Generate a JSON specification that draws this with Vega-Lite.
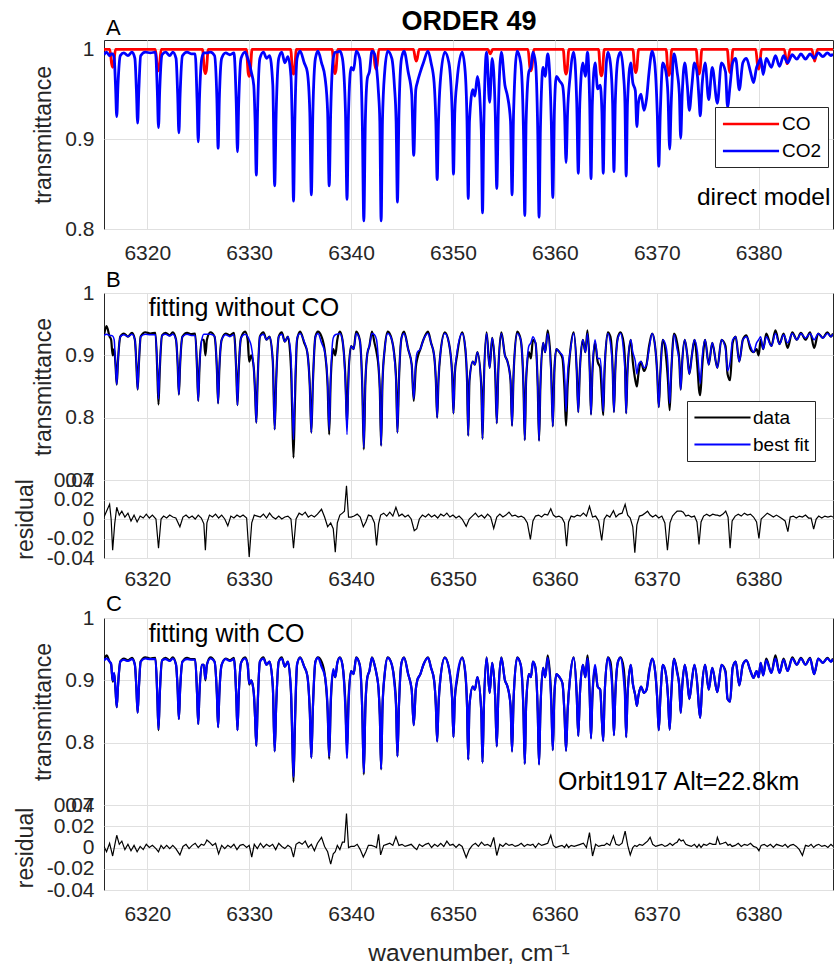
{
"$schema": "https://vega.github.io/schema/vega-lite/v6.json",
"background": "white",
"padding": {"left": 13, "right": 0, "top": 7, "bottom": 3},
"config": {
  "font": "Liberation Sans",
  "view": {"stroke": "#262626", "strokeWidth": 1},
  "axis": {"labelFont": "Liberation Sans", "labelFontSize": 21, "labelColor": "#262626", "titleFont": "Liberation Sans", "titleFontSize": 23, "titleFontWeight": "normal", "titleColor": "#262626", "gridColor": "#e0e0e0", "gridWidth": 1, "domain": false, "ticks": false, "labelPadding": 10, "titlePadding": 9, "labelOverlap": false},
  "legend": {"labelFont": "Liberation Sans", "labelFontSize": 19, "labelColor": "#000000", "strokeColor": "#262626", "fillColor": "#ffffff", "padding": 6, "rowPadding": 6, "symbolType": "M-3,0H3", "symbolSize": 350, "symbolOffset": 19, "labelOffset": 20}
},
"resolve": {"scale": {"color": "independent"}, "legend": {"color": "independent"}},
"datasets": {
"co": [
{"x":6315.75,"CO":1},
{"x":6316.32,"CO":1},{"x":6316.5,"CO":0.984},{"x":6316.6,"CO":0.98},{"x":6316.7,"CO":0.984},{"x":6316.88,"CO":1},
{"x":6320.8,"CO":1},{"x":6320.98,"CO":0.98},{"x":6321.08,"CO":0.976},{"x":6321.18,"CO":0.98},{"x":6321.36,"CO":1},
{"x":6325.42,"CO":1},{"x":6325.6,"CO":0.977},{"x":6325.7,"CO":0.973},{"x":6325.8,"CO":0.977},{"x":6325.98,"CO":1},
{"x":6329.72,"CO":1},{"x":6329.9,"CO":0.974},{"x":6330.0,"CO":0.97},{"x":6330.1,"CO":0.974},{"x":6330.28,"CO":1},
{"x":6334.07,"CO":1},{"x":6334.25,"CO":0.9765},{"x":6334.35,"CO":0.9725},{"x":6334.45,"CO":0.9765},{"x":6334.63,"CO":1},
{"x":6338.14,"CO":1},{"x":6338.32,"CO":0.977},{"x":6338.42,"CO":0.973},{"x":6338.52,"CO":0.977},{"x":6338.7,"CO":1},
{"x":6342.17,"CO":1},{"x":6342.35,"CO":0.982},{"x":6342.45,"CO":0.978},{"x":6342.55,"CO":0.982},{"x":6342.73,"CO":1},
{"x":6346.12,"CO":1},{"x":6346.3,"CO":0.99},{"x":6346.4,"CO":0.987},{"x":6346.5,"CO":0.99},{"x":6346.68,"CO":1},
{"x":6353.42,"CO":1},{"x":6353.56,"CO":0.997},{"x":6353.66,"CO":0.995},{"x":6353.76,"CO":0.997},{"x":6353.9,"CO":1},
{"x":6357.37,"CO":1},{"x":6357.55,"CO":0.98},{"x":6357.65,"CO":0.976},{"x":6357.75,"CO":0.98},{"x":6357.93,"CO":1},
{"x":6360.82,"CO":1},{"x":6361.0,"CO":0.9765},{"x":6361.1,"CO":0.9725},{"x":6361.2,"CO":0.9765},{"x":6361.38,"CO":1},
{"x":6364.29,"CO":1},{"x":6364.47,"CO":0.9745},{"x":6364.57,"CO":0.9705},{"x":6364.67,"CO":0.9745},{"x":6364.85,"CO":1},
{"x":6367.66,"CO":1},{"x":6367.84,"CO":0.978},{"x":6367.94,"CO":0.974},{"x":6368.04,"CO":0.978},{"x":6368.22,"CO":1},
{"x":6370.92,"CO":1},{"x":6371.1,"CO":0.975},{"x":6371.2,"CO":0.971},{"x":6371.3,"CO":0.975},{"x":6371.48,"CO":1},
{"x":6373.87,"CO":1},{"x":6374.05,"CO":0.9765},{"x":6374.15,"CO":0.9725},{"x":6374.25,"CO":0.9765},{"x":6374.43,"CO":1},
{"x":6376.92,"CO":1},{"x":6377.1,"CO":0.978},{"x":6377.2,"CO":0.974},{"x":6377.3,"CO":0.978},{"x":6377.48,"CO":1},
{"x":6379.72,"CO":1},{"x":6379.9,"CO":0.982},{"x":6380.0,"CO":0.978},{"x":6380.1,"CO":0.982},{"x":6380.28,"CO":1},
{"x":6382.52,"CO":1},{"x":6382.7,"CO":0.988},{"x":6382.8,"CO":0.984},{"x":6382.9,"CO":0.988},{"x":6383.08,"CO":1},
{"x":6385.22,"CO":1},{"x":6385.4,"CO":0.991},{"x":6385.5,"CO":0.987},{"x":6385.6,"CO":0.991},{"x":6385.78,"CO":1},
{"x":6387.3,"CO":1}
],
"spec": [
{"x":6315.75,"CO2":0.994,"bd":0.932,"bf":0.932,"cd":0.932,"cf":0.932},
{"x":6316.0,"CO2":0.997,"bd":0.947,"bf":0.934,"cd":0.94,"cf":0.935},
{"x":6316.3,"CO2":0.993,"bd":0.93,"bf":0.932,"cd":0.93,"cf":0.93},
{"x":6316.45,"CO2":0.995,"bd":0.925,"bf":0.932,"cd":0.925,"cf":0.927},
{"x":6316.6,"CO2":0.995,"bd":0.90,"bf":0.931,"cd":0.898,"cf":0.90},
{"x":6316.75,"CO2":0.99,"bd":0.91,"bf":0.925,"cd":0.91,"cf":0.912},
{"x":6316.88,"CO2":0.96,"bd":0.885,"bf":0.885,"cd":0.885,"cf":0.885},
{"x":6317.0,"CO2":0.925,"bd":0.853,"bf":0.853,"cd":0.857,"cf":0.857},
{"x":6317.12,"CO2":0.96,"bd":0.89,"bf":0.89,"cd":0.89,"cf":0.89},
{"x":6317.35,"CO2":0.993,"bd":0.93,"bf":0.93,"cd":0.93,"cf":0.93},
{"x":6317.7,"CO2":0.996,"bd":0.935,"bf":0.933,"cd":0.935,"cf":0.933},
{"x":6318.1,"CO2":0.993,"bd":0.93,"bf":0.93,"cd":0.932,"cf":0.931},
{"x":6318.5,"CO2":0.997,"bd":0.936,"bf":0.934,"cd":0.936,"cf":0.934},
{"x":6318.78,"CO2":0.99,"bd":0.925,"bf":0.925,"cd":0.925,"cf":0.925},
{"x":6318.93,"CO2":0.955,"bd":0.885,"bf":0.885,"cd":0.887,"cf":0.887},
{"x":6319.05,"CO2":0.918,"bd":0.845,"bf":0.845,"cd":0.848,"cf":0.848},
{"x":6319.17,"CO2":0.955,"bd":0.885,"bf":0.885,"cd":0.887,"cf":0.887},
{"x":6319.35,"CO2":0.993,"bd":0.93,"bf":0.93,"cd":0.93,"cf":0.93},
{"x":6319.8,"CO2":0.997,"bd":0.937,"bf":0.934,"cd":0.937,"cf":0.935},
{"x":6320.3,"CO2":0.996,"bd":0.935,"bf":0.933,"cd":0.935,"cf":0.934},
{"x":6320.8,"CO2":0.997,"bd":0.936,"bf":0.933,"cd":0.936,"cf":0.934},
{"x":6320.98,"CO2":0.955,"bd":0.875,"bf":0.88,"cd":0.875,"cf":0.877},
{"x":6321.1,"CO2":0.913,"bd":0.821,"bf":0.83,"cd":0.82,"cf":0.822},
{"x":6321.22,"CO2":0.955,"bd":0.875,"bf":0.88,"cd":0.875,"cf":0.877},
{"x":6321.45,"CO2":0.994,"bd":0.932,"bf":0.932,"cd":0.932,"cf":0.932},
{"x":6321.8,"CO2":0.997,"bd":0.936,"bf":0.934,"cd":0.936,"cf":0.934},
{"x":6322.2,"CO2":0.993,"bd":0.932,"bf":0.931,"cd":0.932,"cf":0.931},
{"x":6322.5,"CO2":0.997,"bd":0.937,"bf":0.934,"cd":0.937,"cf":0.935},
{"x":6322.82,"CO2":0.99,"bd":0.925,"bf":0.925,"cd":0.925,"cf":0.925},
{"x":6322.98,"CO2":0.95,"bd":0.885,"bf":0.885,"cd":0.885,"cf":0.885},
{"x":6323.1,"CO2":0.907,"bd":0.837,"bf":0.837,"cd":0.838,"cf":0.838},
{"x":6323.22,"CO2":0.95,"bd":0.885,"bf":0.885,"cd":0.885,"cf":0.885},
{"x":6323.45,"CO2":0.993,"bd":0.93,"bf":0.93,"cd":0.93,"cf":0.93},
{"x":6323.9,"CO2":0.997,"bd":0.936,"bf":0.934,"cd":0.936,"cf":0.934},
{"x":6324.3,"CO2":0.995,"bd":0.934,"bf":0.932,"cd":0.934,"cf":0.933},
{"x":6324.7,"CO2":0.995,"bd":0.935,"bf":0.932,"cd":0.934,"cf":0.933},
{"x":6324.88,"CO2":0.945,"bd":0.88,"bf":0.88,"cd":0.88,"cf":0.88},
{"x":6325.0,"CO2":0.897,"bd":0.827,"bf":0.827,"cd":0.83,"cf":0.83},
{"x":6325.12,"CO2":0.945,"bd":0.88,"bf":0.88,"cd":0.88,"cf":0.88},
{"x":6325.35,"CO2":0.99,"bd":0.925,"bf":0.925,"cd":0.925,"cf":0.925},
{"x":6325.55,"CO2":0.996,"bd":0.925,"bf":0.934,"cd":0.925,"cf":0.925},
{"x":6325.7,"CO2":0.996,"bd":0.90,"bf":0.934,"cd":0.90,"cf":0.902},
{"x":6325.85,"CO2":0.996,"bd":0.925,"bf":0.934,"cd":0.925,"cf":0.925},
{"x":6326.2,"CO2":0.997,"bd":0.937,"bf":0.934,"cd":0.937,"cf":0.935},
{"x":6326.6,"CO2":0.993,"bd":0.93,"bf":0.931,"cd":0.93,"cf":0.93},
{"x":6326.83,"CO2":0.945,"bd":0.878,"bf":0.878,"cd":0.878,"cf":0.878},
{"x":6326.95,"CO2":0.89,"bd":0.823,"bf":0.823,"cd":0.825,"cf":0.825},
{"x":6327.07,"CO2":0.945,"bd":0.878,"bf":0.878,"cd":0.878,"cf":0.878},
{"x":6327.3,"CO2":0.99,"bd":0.925,"bf":0.925,"cd":0.925,"cf":0.925},
{"x":6327.7,"CO2":0.996,"bd":0.935,"bf":0.933,"cd":0.935,"cf":0.934},
{"x":6328.1,"CO2":0.994,"bd":0.932,"bf":0.93,"cd":0.932,"cf":0.931},
{"x":6328.5,"CO2":0.996,"bd":0.936,"bf":0.933,"cd":0.936,"cf":0.934},
{"x":6328.73,"CO2":0.94,"bd":0.875,"bf":0.875,"cd":0.875,"cf":0.875},
{"x":6328.85,"CO2":0.886,"bd":0.82,"bf":0.82,"cd":0.82,"cf":0.82},
{"x":6328.97,"CO2":0.94,"bd":0.875,"bf":0.875,"cd":0.875,"cf":0.875},
{"x":6329.2,"CO2":0.99,"bd":0.928,"bf":0.928,"cd":0.928,"cf":0.928},
{"x":6329.6,"CO2":0.997,"bd":0.938,"bf":0.934,"cd":0.937,"cf":0.935},
{"x":6329.85,"CO2":0.99,"bd":0.925,"bf":0.93,"cd":0.925,"cf":0.925},
{"x":6330.0,"CO2":0.985,"bd":0.89,"bf":0.925,"cd":0.893,"cf":0.895},
{"x":6330.2,"CO2":0.975,"bd":0.90,"bf":0.915,"cd":0.90,"cf":0.90},
{"x":6330.45,"CO2":0.96,"bd":0.88,"bf":0.88,"cd":0.88,"cf":0.88},
{"x":6330.58,"CO2":0.92,"bd":0.84,"bf":0.84,"cd":0.84,"cf":0.84},
{"x":6330.7,"CO2":0.86,"bd":0.792,"bf":0.792,"cd":0.795,"cf":0.795},
{"x":6330.82,"CO2":0.93,"bd":0.855,"bf":0.855,"cd":0.855,"cf":0.855},
{"x":6331.05,"CO2":0.99,"bd":0.93,"bf":0.93,"cd":0.93,"cf":0.93},
{"x":6331.4,"CO2":0.997,"bd":0.937,"bf":0.934,"cd":0.937,"cf":0.935},
{"x":6331.7,"CO2":0.99,"bd":0.925,"bf":0.925,"cd":0.925,"cf":0.925},
{"x":6332.0,"CO2":0.993,"bd":0.93,"bf":0.93,"cd":0.93,"cf":0.93},
{"x":6332.32,"CO2":0.96,"bd":0.89,"bf":0.89,"cd":0.89,"cf":0.89},
{"x":6332.5,"CO2":0.848,"bd":0.781,"bf":0.781,"cd":0.786,"cf":0.786},
{"x":6332.65,"CO2":0.93,"bd":0.86,"bf":0.86,"cd":0.86,"cf":0.86},
{"x":6332.9,"CO2":0.99,"bd":0.93,"bf":0.93,"cd":0.93,"cf":0.93},
{"x":6333.2,"CO2":0.997,"bd":0.937,"bf":0.934,"cd":0.937,"cf":0.935},
{"x":6333.5,"CO2":0.985,"bd":0.922,"bf":0.922,"cd":0.922,"cf":0.922},
{"x":6333.8,"CO2":0.992,"bd":0.93,"bf":0.93,"cd":0.93,"cf":0.93},
{"x":6334.1,"CO2":0.97,"bd":0.88,"bf":0.90,"cd":0.88,"cf":0.885},
{"x":6334.22,"CO2":0.92,"bd":0.81,"bf":0.83,"cd":0.81,"cf":0.82},
{"x":6334.35,"CO2":0.831,"bd":0.736,"bf":0.765,"cd":0.737,"cf":0.745},
{"x":6334.48,"CO2":0.92,"bd":0.82,"bf":0.84,"cd":0.82,"cf":0.83},
{"x":6334.7,"CO2":0.99,"bd":0.925,"bf":0.928,"cd":0.925,"cf":0.926},
{"x":6335.0,"CO2":0.998,"bd":0.938,"bf":0.935,"cd":0.937,"cf":0.936},
{"x":6335.4,"CO2":0.985,"bd":0.92,"bf":0.922,"cd":0.922,"cf":0.922},
{"x":6335.7,"CO2":0.975,"bd":0.905,"bf":0.905,"cd":0.908,"cf":0.908},
{"x":6335.95,"CO2":0.93,"bd":0.85,"bf":0.85,"cd":0.85,"cf":0.85},
{"x":6336.1,"CO2":0.838,"bd":0.776,"bf":0.776,"cd":0.776,"cf":0.776},
{"x":6336.25,"CO2":0.93,"bd":0.855,"bf":0.855,"cd":0.855,"cf":0.855},
{"x":6336.5,"CO2":0.99,"bd":0.93,"bf":0.93,"cd":0.93,"cf":0.93},
{"x":6336.75,"CO2":0.998,"bd":0.938,"bf":0.935,"cd":0.937,"cf":0.936},
{"x":6337.1,"CO2":0.985,"bd":0.93,"bf":0.92,"cd":0.93,"cf":0.922},
{"x":6337.45,"CO2":0.968,"bd":0.903,"bf":0.903,"cd":0.905,"cf":0.905},
{"x":6337.7,"CO2":0.93,"bd":0.85,"bf":0.855,"cd":0.85,"cf":0.855},
{"x":6337.85,"CO2":0.848,"bd":0.773,"bf":0.78,"cd":0.774,"cf":0.778},
{"x":6338.0,"CO2":0.93,"bd":0.86,"bf":0.865,"cd":0.86,"cf":0.865},
{"x":6338.25,"CO2":0.99,"bd":0.91,"bf":0.928,"cd":0.915,"cf":0.918},
{"x":6338.45,"CO2":0.997,"bd":0.90,"bf":0.933,"cd":0.905,"cf":0.905},
{"x":6338.65,"CO2":0.997,"bd":0.925,"bf":0.934,"cd":0.928,"cf":0.928},
{"x":6338.9,"CO2":0.998,"bd":0.938,"bf":0.935,"cd":0.937,"cf":0.936},
{"x":6339.15,"CO2":0.99,"bd":0.925,"bf":0.925,"cd":0.925,"cf":0.925},
{"x":6339.45,"CO2":0.93,"bd":0.86,"bf":0.85,"cd":0.86,"cf":0.85},
{"x":6339.6,"CO2":0.833,"bd":0.79,"bf":0.773,"cd":0.79,"cf":0.775},
{"x":6339.75,"CO2":0.93,"bd":0.87,"bf":0.86,"cd":0.87,"cf":0.86},
{"x":6340.0,"CO2":0.98,"bd":0.915,"bf":0.915,"cd":0.915,"cf":0.915},
{"x":6340.25,"CO2":0.977,"bd":0.91,"bf":0.91,"cd":0.91,"cf":0.91},
{"x":6340.5,"CO2":0.998,"bd":0.938,"bf":0.935,"cd":0.937,"cf":0.936},
{"x":6340.85,"CO2":0.99,"bd":0.925,"bf":0.925,"cd":0.925,"cf":0.925},
{"x":6341.1,"CO2":0.92,"bd":0.85,"bf":0.85,"cd":0.85,"cf":0.85},
{"x":6341.25,"CO2":0.809,"bd":0.749,"bf":0.752,"cd":0.749,"cf":0.752},
{"x":6341.4,"CO2":0.92,"bd":0.855,"bf":0.855,"cd":0.855,"cf":0.855},
{"x":6341.6,"CO2":0.968,"bd":0.903,"bf":0.903,"cd":0.905,"cf":0.905},
{"x":6341.8,"CO2":0.975,"bd":0.915,"bf":0.915,"cd":0.915,"cf":0.915},
{"x":6342.05,"CO2":0.998,"bd":0.938,"bf":0.935,"cd":0.937,"cf":0.936},
{"x":6342.3,"CO2":0.995,"bd":0.92,"bf":0.933,"cd":0.925,"cf":0.925},
{"x":6342.5,"CO2":0.98,"bd":0.905,"bf":0.925,"cd":0.91,"cf":0.91},
{"x":6342.7,"CO2":0.95,"bd":0.88,"bf":0.885,"cd":0.885,"cf":0.885},
{"x":6342.82,"CO2":0.92,"bd":0.845,"bf":0.845,"cd":0.845,"cf":0.845},
{"x":6342.95,"CO2":0.809,"bd":0.755,"bf":0.755,"cd":0.757,"cf":0.758},
{"x":6343.08,"CO2":0.92,"bd":0.855,"bf":0.855,"cd":0.855,"cf":0.855},
{"x":6343.3,"CO2":0.975,"bd":0.91,"bf":0.91,"cd":0.91,"cf":0.91},
{"x":6343.6,"CO2":0.998,"bd":0.938,"bf":0.935,"cd":0.937,"cf":0.936},
{"x":6344.0,"CO2":0.99,"bd":0.925,"bf":0.925,"cd":0.925,"cf":0.925},
{"x":6344.25,"CO2":0.96,"bd":0.90,"bf":0.895,"cd":0.90,"cf":0.895},
{"x":6344.42,"CO2":0.92,"bd":0.86,"bf":0.855,"cd":0.86,"cf":0.855},
{"x":6344.55,"CO2":0.83,"bd":0.776,"bf":0.776,"cd":0.778,"cf":0.778},
{"x":6344.7,"CO2":0.93,"bd":0.86,"bf":0.86,"cd":0.86,"cf":0.86},
{"x":6344.95,"CO2":0.99,"bd":0.928,"bf":0.928,"cd":0.928,"cf":0.928},
{"x":6345.2,"CO2":0.998,"bd":0.938,"bf":0.935,"cd":0.937,"cf":0.936},
{"x":6345.6,"CO2":0.975,"bd":0.91,"bf":0.91,"cd":0.91,"cf":0.91},
{"x":6345.95,"CO2":0.95,"bd":0.885,"bf":0.885,"cd":0.885,"cf":0.885},
{"x":6346.15,"CO2":0.882,"bd":0.827,"bf":0.83,"cd":0.828,"cf":0.828},
{"x":6346.35,"CO2":0.955,"bd":0.88,"bf":0.89,"cd":0.885,"cf":0.885},
{"x":6346.5,"CO2":0.963,"bd":0.895,"bf":0.905,"cd":0.90,"cf":0.90},
{"x":6346.8,"CO2":0.975,"bd":0.91,"bf":0.91,"cd":0.91,"cf":0.91},
{"x":6347.1,"CO2":0.985,"bd":0.925,"bf":0.925,"cd":0.925,"cf":0.925},
{"x":6347.55,"CO2":0.998,"bd":0.938,"bf":0.935,"cd":0.937,"cf":0.936},
{"x":6347.85,"CO2":0.985,"bd":0.92,"bf":0.92,"cd":0.92,"cf":0.92},
{"x":6348.15,"CO2":0.963,"bd":0.90,"bf":0.90,"cd":0.90,"cf":0.90},
{"x":6348.32,"CO2":0.92,"bd":0.86,"bf":0.86,"cd":0.86,"cf":0.86},
{"x":6348.45,"CO2":0.855,"bd":0.80,"bf":0.80,"cd":0.802,"cf":0.802},
{"x":6348.58,"CO2":0.92,"bd":0.86,"bf":0.86,"cd":0.86,"cf":0.86},
{"x":6348.75,"CO2":0.963,"bd":0.90,"bf":0.90,"cd":0.90,"cf":0.90},
{"x":6349.2,"CO2":0.997,"bd":0.937,"bf":0.935,"cd":0.937,"cf":0.936},
{"x":6349.6,"CO2":0.985,"bd":0.92,"bf":0.92,"cd":0.92,"cf":0.92},
{"x":6349.92,"CO2":0.93,"bd":0.87,"bf":0.87,"cd":0.87,"cf":0.87},
{"x":6350.05,"CO2":0.861,"bd":0.807,"bf":0.807,"cd":0.809,"cf":0.809},
{"x":6350.18,"CO2":0.93,"bd":0.87,"bf":0.87,"cd":0.87,"cf":0.87},
{"x":6350.4,"CO2":0.965,"bd":0.90,"bf":0.905,"cd":0.90,"cf":0.905},
{"x":6350.9,"CO2":0.997,"bd":0.937,"bf":0.935,"cd":0.937,"cf":0.936},
{"x":6351.2,"CO2":0.975,"bd":0.912,"bf":0.915,"cd":0.912,"cf":0.915},
{"x":6351.38,"CO2":0.92,"bd":0.86,"bf":0.86,"cd":0.86,"cf":0.86},
{"x":6351.5,"CO2":0.834,"bd":0.771,"bf":0.771,"cd":0.773,"cf":0.773},
{"x":6351.62,"CO2":0.92,"bd":0.86,"bf":0.86,"cd":0.86,"cf":0.86},
{"x":6351.95,"CO2":0.955,"bd":0.89,"bf":0.89,"cd":0.89,"cf":0.89},
{"x":6352.15,"CO2":0.948,"bd":0.885,"bf":0.885,"cd":0.885,"cf":0.885},
{"x":6352.4,"CO2":0.97,"bd":0.905,"bf":0.905,"cd":0.905,"cf":0.905},
{"x":6352.78,"CO2":0.91,"bd":0.85,"bf":0.85,"cd":0.85,"cf":0.85},
{"x":6352.9,"CO2":0.818,"bd":0.766,"bf":0.766,"cd":0.768,"cf":0.768},
{"x":6353.02,"CO2":0.91,"bd":0.85,"bf":0.85,"cd":0.85,"cf":0.85},
{"x":6353.3,"CO2":0.997,"bd":0.937,"bf":0.935,"cd":0.937,"cf":0.936},
{"x":6353.6,"CO2":0.941,"bd":0.88,"bf":0.88,"cd":0.88,"cf":0.88},
{"x":6353.85,"CO2":0.99,"bd":0.928,"bf":0.928,"cd":0.928,"cf":0.928},
{"x":6354.15,"CO2":0.93,"bd":0.87,"bf":0.875,"cd":0.87,"cf":0.87},
{"x":6354.3,"CO2":0.845,"bd":0.791,"bf":0.791,"cd":0.794,"cf":0.794},
{"x":6354.45,"CO2":0.93,"bd":0.875,"bf":0.875,"cd":0.875,"cf":0.875},
{"x":6354.75,"CO2":0.997,"bd":0.937,"bf":0.935,"cd":0.937,"cf":0.936},
{"x":6355.1,"CO2":0.96,"bd":0.90,"bf":0.90,"cd":0.90,"cf":0.90},
{"x":6355.35,"CO2":0.948,"bd":0.89,"bf":0.89,"cd":0.89,"cf":0.89},
{"x":6355.65,"CO2":0.92,"bd":0.86,"bf":0.86,"cd":0.86,"cf":0.86},
{"x":6355.8,"CO2":0.838,"bd":0.787,"bf":0.787,"cd":0.786,"cf":0.786},
{"x":6355.95,"CO2":0.93,"bd":0.87,"bf":0.87,"cd":0.87,"cf":0.87},
{"x":6356.3,"CO2":0.998,"bd":0.938,"bf":0.935,"cd":0.937,"cf":0.936},
{"x":6356.65,"CO2":0.985,"bd":0.925,"bf":0.925,"cd":0.925,"cf":0.925},
{"x":6356.92,"CO2":0.91,"bd":0.85,"bf":0.85,"cd":0.85,"cf":0.85},
{"x":6357.05,"CO2":0.815,"bd":0.764,"bf":0.764,"cd":0.766,"cf":0.766},
{"x":6357.18,"CO2":0.92,"bd":0.86,"bf":0.86,"cd":0.86,"cf":0.86},
{"x":6357.45,"CO2":0.975,"bd":0.905,"bf":0.915,"cd":0.91,"cf":0.91},
{"x":6357.65,"CO2":0.98,"bd":0.895,"bf":0.92,"cd":0.905,"cf":0.905},
{"x":6357.85,"CO2":0.997,"bd":0.925,"bf":0.93,"cd":0.93,"cf":0.93},
{"x":6358.1,"CO2":0.985,"bd":0.92,"bf":0.92,"cd":0.92,"cf":0.92},
{"x":6358.32,"CO2":0.91,"bd":0.85,"bf":0.85,"cd":0.85,"cf":0.85},
{"x":6358.45,"CO2":0.813,"bd":0.763,"bf":0.763,"cd":0.765,"cf":0.765},
{"x":6358.58,"CO2":0.91,"bd":0.85,"bf":0.85,"cd":0.85,"cf":0.85},
{"x":6358.85,"CO2":0.98,"bd":0.92,"bf":0.92,"cd":0.92,"cf":0.92},
{"x":6359.05,"CO2":0.97,"bd":0.905,"bf":0.905,"cd":0.905,"cf":0.905},
{"x":6359.3,"CO2":0.995,"bd":0.94,"bf":0.935,"cd":0.94,"cf":0.936},
{"x":6359.65,"CO2":0.92,"bd":0.87,"bf":0.86,"cd":0.87,"cf":0.86},
{"x":6359.8,"CO2":0.835,"bd":0.786,"bf":0.786,"cd":0.788,"cf":0.788},
{"x":6359.95,"CO2":0.93,"bd":0.875,"bf":0.875,"cd":0.875,"cf":0.875},
{"x":6360.15,"CO2":0.97,"bd":0.91,"bf":0.91,"cd":0.91,"cf":0.91},
{"x":6360.45,"CO2":0.965,"bd":0.905,"bf":0.905,"cd":0.905,"cf":0.905},
{"x":6360.75,"CO2":0.96,"bd":0.895,"bf":0.90,"cd":0.895,"cf":0.895},
{"x":6360.95,"CO2":0.93,"bd":0.845,"bf":0.87,"cd":0.845,"cf":0.845},
{"x":6361.1,"CO2":0.874,"bd":0.787,"bf":0.81,"cd":0.787,"cf":0.787},
{"x":6361.25,"CO2":0.93,"bd":0.85,"bf":0.87,"cd":0.85,"cf":0.85},
{"x":6361.5,"CO2":0.97,"bd":0.905,"bf":0.905,"cd":0.905,"cf":0.905},
{"x":6361.85,"CO2":0.997,"bd":0.937,"bf":0.935,"cd":0.937,"cf":0.936},
{"x":6362.15,"CO2":0.94,"bd":0.875,"bf":0.875,"cd":0.875,"cf":0.875},
{"x":6362.3,"CO2":0.862,"bd":0.809,"bf":0.809,"cd":0.811,"cf":0.811},
{"x":6362.45,"CO2":0.94,"bd":0.875,"bf":0.875,"cd":0.875,"cf":0.875},
{"x":6362.75,"CO2":0.985,"bd":0.925,"bf":0.925,"cd":0.925,"cf":0.925},
{"x":6363.0,"CO2":0.97,"bd":0.905,"bf":0.905,"cd":0.905,"cf":0.905},
{"x":6363.2,"CO2":0.997,"bd":0.94,"bf":0.935,"cd":0.94,"cf":0.935},
{"x":6363.42,"CO2":0.94,"bd":0.88,"bf":0.875,"cd":0.878,"cf":0.875},
{"x":6363.55,"CO2":0.856,"bd":0.805,"bf":0.805,"cd":0.807,"cf":0.807},
{"x":6363.68,"CO2":0.94,"bd":0.87,"bf":0.875,"cd":0.87,"cf":0.875},
{"x":6363.95,"CO2":0.985,"bd":0.92,"bf":0.925,"cd":0.92,"cf":0.925},
{"x":6364.2,"CO2":0.956,"bd":0.89,"bf":0.895,"cd":0.89,"cf":0.89},
{"x":6364.45,"CO2":0.96,"bd":0.88,"bf":0.895,"cd":0.885,"cf":0.885},
{"x":6364.62,"CO2":0.93,"bd":0.835,"bf":0.86,"cd":0.835,"cf":0.835},
{"x":6364.75,"CO2":0.862,"bd":0.804,"bf":0.81,"cd":0.803,"cf":0.803},
{"x":6364.88,"CO2":0.94,"bd":0.875,"bf":0.88,"cd":0.875,"cf":0.875},
{"x":6365.2,"CO2":0.997,"bd":0.937,"bf":0.935,"cd":0.937,"cf":0.936},
{"x":6365.45,"CO2":0.985,"bd":0.93,"bf":0.92,"cd":0.93,"cf":0.922},
{"x":6365.67,"CO2":0.94,"bd":0.88,"bf":0.875,"cd":0.88,"cf":0.875},
{"x":6365.8,"CO2":0.864,"bd":0.809,"bf":0.809,"cd":0.812,"cf":0.812},
{"x":6365.93,"CO2":0.94,"bd":0.875,"bf":0.875,"cd":0.875,"cf":0.875},
{"x":6366.2,"CO2":0.99,"bd":0.93,"bf":0.928,"cd":0.93,"cf":0.93},
{"x":6366.45,"CO2":0.997,"bd":0.937,"bf":0.935,"cd":0.937,"cf":0.936},
{"x":6366.75,"CO2":0.97,"bd":0.92,"bf":0.905,"cd":0.92,"cf":0.905},
{"x":6366.88,"CO2":0.94,"bd":0.89,"bf":0.875,"cd":0.89,"cf":0.875},
{"x":6367.0,"CO2":0.859,"bd":0.807,"bf":0.807,"cd":0.809,"cf":0.809},
{"x":6367.13,"CO2":0.94,"bd":0.875,"bf":0.875,"cd":0.875,"cf":0.875},
{"x":6367.45,"CO2":0.985,"bd":0.925,"bf":0.925,"cd":0.925,"cf":0.925},
{"x":6367.65,"CO2":0.963,"bd":0.89,"bf":0.905,"cd":0.895,"cf":0.895},
{"x":6367.9,"CO2":0.954,"bd":0.86,"bf":0.89,"cd":0.875,"cf":0.875},
{"x":6368.05,"CO2":0.914,"bd":0.85,"bf":0.87,"cd":0.859,"cf":0.859},
{"x":6368.2,"CO2":0.94,"bd":0.87,"bf":0.885,"cd":0.875,"cf":0.875},
{"x":6368.45,"CO2":0.95,"bd":0.89,"bf":0.89,"cd":0.89,"cf":0.89},
{"x":6368.75,"CO2":0.932,"bd":0.875,"bf":0.88,"cd":0.88,"cf":0.88},
{"x":6369.0,"CO2":0.945,"bd":0.885,"bf":0.885,"cd":0.885,"cf":0.885},
{"x":6369.25,"CO2":0.975,"bd":0.915,"bf":0.91,"cd":0.915,"cf":0.912},
{"x":6369.55,"CO2":0.998,"bd":0.935,"bf":0.935,"cd":0.935,"cf":0.935},
{"x":6369.8,"CO2":0.985,"bd":0.92,"bf":0.92,"cd":0.92,"cf":0.92},
{"x":6370.05,"CO2":0.93,"bd":0.87,"bf":0.87,"cd":0.87,"cf":0.87},
{"x":6370.2,"CO2":0.87,"bd":0.817,"bf":0.817,"cd":0.82,"cf":0.82},
{"x":6370.35,"CO2":0.93,"bd":0.87,"bf":0.87,"cd":0.87,"cf":0.87},
{"x":6370.6,"CO2":0.985,"bd":0.925,"bf":0.925,"cd":0.925,"cf":0.925},
{"x":6370.9,"CO2":0.975,"bd":0.90,"bf":0.915,"cd":0.91,"cf":0.91},
{"x":6371.1,"CO2":0.95,"bd":0.86,"bf":0.885,"cd":0.875,"cf":0.875},
{"x":6371.27,"CO2":0.889,"bd":0.812,"bf":0.823,"cd":0.821,"cf":0.821},
{"x":6371.42,"CO2":0.94,"bd":0.87,"bf":0.875,"cd":0.875,"cf":0.875},
{"x":6371.7,"CO2":0.995,"bd":0.935,"bf":0.933,"cd":0.935,"cf":0.934},
{"x":6372.0,"CO2":0.975,"bd":0.92,"bf":0.91,"cd":0.915,"cf":0.912},
{"x":6372.22,"CO2":0.95,"bd":0.89,"bf":0.89,"cd":0.89,"cf":0.89},
{"x":6372.35,"CO2":0.901,"bd":0.845,"bf":0.845,"cd":0.848,"cf":0.848},
{"x":6372.5,"CO2":0.95,"bd":0.89,"bf":0.89,"cd":0.89,"cf":0.89},
{"x":6372.75,"CO2":0.985,"bd":0.925,"bf":0.925,"cd":0.925,"cf":0.925},
{"x":6373.0,"CO2":0.96,"bd":0.90,"bf":0.90,"cd":0.90,"cf":0.90},
{"x":6373.2,"CO2":0.932,"bd":0.87,"bf":0.87,"cd":0.87,"cf":0.87},
{"x":6373.45,"CO2":0.96,"bd":0.90,"bf":0.90,"cd":0.90,"cf":0.90},
{"x":6373.7,"CO2":0.985,"bd":0.925,"bf":0.925,"cd":0.925,"cf":0.925},
{"x":6374.0,"CO2":0.97,"bd":0.88,"bf":0.905,"cd":0.89,"cf":0.89},
{"x":6374.15,"CO2":0.945,"bd":0.845,"bf":0.875,"cd":0.855,"cf":0.855},
{"x":6374.27,"CO2":0.926,"bd":0.836,"bf":0.855,"cd":0.84,"cf":0.84},
{"x":6374.45,"CO2":0.96,"bd":0.88,"bf":0.895,"cd":0.89,"cf":0.89},
{"x":6374.75,"CO2":0.985,"bd":0.925,"bf":0.925,"cd":0.925,"cf":0.925},
{"x":6375.1,"CO2":0.944,"bd":0.885,"bf":0.885,"cd":0.885,"cf":0.885},
{"x":6375.45,"CO2":0.98,"bd":0.92,"bf":0.92,"cd":0.92,"cf":0.92},
{"x":6375.95,"CO2":0.94,"bd":0.88,"bf":0.88,"cd":0.881,"cf":0.881},
{"x":6376.35,"CO2":0.985,"bd":0.925,"bf":0.925,"cd":0.925,"cf":0.925},
{"x":6376.75,"CO2":0.975,"bd":0.915,"bf":0.91,"cd":0.915,"cf":0.912},
{"x":6376.95,"CO2":0.936,"bd":0.87,"bf":0.875,"cd":0.87,"cf":0.87},
{"x":6377.2,"CO2":0.96,"bd":0.86,"bf":0.89,"cd":0.866,"cf":0.866},
{"x":6377.45,"CO2":0.985,"bd":0.92,"bf":0.925,"cd":0.92,"cf":0.92},
{"x":6377.75,"CO2":0.99,"bd":0.93,"bf":0.93,"cd":0.93,"cf":0.93},
{"x":6378.1,"CO2":0.955,"bd":0.89,"bf":0.89,"cd":0.892,"cf":0.892},
{"x":6378.45,"CO2":0.985,"bd":0.925,"bf":0.925,"cd":0.925,"cf":0.925},
{"x":6378.8,"CO2":0.99,"bd":0.932,"bf":0.93,"cd":0.932,"cf":0.932},
{"x":6379.2,"CO2":0.975,"bd":0.91,"bf":0.915,"cd":0.915,"cf":0.915},
{"x":6379.5,"CO2":0.963,"bd":0.905,"bf":0.905,"cd":0.904,"cf":0.904},
{"x":6379.8,"CO2":0.98,"bd":0.91,"bf":0.92,"cd":0.915,"cf":0.915},
{"x":6380.0,"CO2":0.985,"bd":0.90,"bf":0.925,"cd":0.905,"cf":0.905},
{"x":6380.2,"CO2":0.99,"bd":0.925,"bf":0.93,"cd":0.928,"cf":0.928},
{"x":6380.45,"CO2":0.972,"bd":0.91,"bf":0.91,"cd":0.908,"cf":0.908},
{"x":6380.75,"CO2":0.99,"bd":0.935,"bf":0.93,"cd":0.935,"cf":0.932},
{"x":6381.25,"CO2":0.98,"bd":0.915,"bf":0.915,"cd":0.912,"cf":0.912},
{"x":6381.65,"CO2":0.993,"bd":0.94,"bf":0.935,"cd":0.94,"cf":0.935},
{"x":6382.05,"CO2":0.981,"bd":0.918,"bf":0.918,"cd":0.912,"cf":0.912},
{"x":6382.45,"CO2":0.993,"bd":0.935,"bf":0.933,"cd":0.935,"cf":0.933},
{"x":6382.85,"CO2":0.985,"bd":0.912,"bf":0.92,"cd":0.915,"cf":0.915},
{"x":6383.3,"CO2":0.994,"bd":0.937,"bf":0.935,"cd":0.937,"cf":0.935},
{"x":6383.75,"CO2":0.989,"bd":0.925,"bf":0.925,"cd":0.925,"cf":0.925},
{"x":6384.15,"CO2":0.995,"bd":0.936,"bf":0.935,"cd":0.936,"cf":0.935},
{"x":6384.6,"CO2":0.989,"bd":0.925,"bf":0.928,"cd":0.925,"cf":0.925},
{"x":6385.05,"CO2":0.995,"bd":0.937,"bf":0.935,"cd":0.936,"cf":0.935},
{"x":6385.45,"CO2":0.99,"bd":0.912,"bf":0.925,"cd":0.91,"cf":0.91},
{"x":6385.85,"CO2":0.996,"bd":0.935,"bf":0.935,"cd":0.935,"cf":0.935},
{"x":6386.3,"CO2":0.992,"bd":0.928,"bf":0.928,"cd":0.928,"cf":0.928},
{"x":6386.75,"CO2":0.996,"bd":0.937,"bf":0.935,"cd":0.936,"cf":0.935},
{"x":6387.1,"CO2":0.993,"bd":0.93,"bf":0.93,"cd":0.93,"cf":0.93},
{"x":6387.3,"CO2":0.995,"bd":0.935,"bf":0.934,"cd":0.935,"cf":0.934}
],
"res": [
{"x":6315.75,"rb":0.002,"rc":0.001},{"x":6316.0,"rb":0.008,"rc":-0.004},{"x":6316.3,"rb":0.015,"rc":0.004},{"x":6316.45,"rb":0,"rc":-0.002},{"x":6316.6,"rb":-0.032,"rc":-0.008},{"x":6316.8,"rb":-0.005,"rc":0.002},{"x":6317.0,"rb":0.012,"rc":0.0115},{"x":6317.25,"rb":0.004,"rc":0.003},{"x":6317.5,"rb":0.008,"rc":0.006},{"x":6317.8,"rb":0.002,"rc":-0.002},
{"x":6318.1,"rb":0.006,"rc":0.003},{"x":6318.4,"rb":-0.002,"rc":-0.003},{"x":6318.7,"rb":0.004,"rc":0.002},{"x":6319.0,"rb":-0.003,"rc":-0.004},{"x":6319.3,"rb":0.003,"rc":0.001},{"x":6319.6,"rb":0.001,"rc":-0.002},{"x":6319.9,"rb":0.005,"rc":0.003},{"x":6320.2,"rb":0.001,"rc":0},{"x":6320.5,"rb":0.004,"rc":0.002},{"x":6320.85,"rb":0,"rc":-0.001},
{"x":6321.1,"rb":-0.030,"rc":-0.004},{"x":6321.35,"rb":0,"rc":0.002},{"x":6321.6,"rb":0.003,"rc":-0.001},{"x":6321.9,"rb":0.001,"rc":0.002},{"x":6322.2,"rb":0.004,"rc":-0.001},{"x":6322.5,"rb":0.002,"rc":0.002},{"x":6322.8,"rb":0.001,"rc":-0.001},{"x":6323.2,"rb":-0.008,"rc":-0.007},{"x":6323.5,"rb":0.002,"rc":0.001},{"x":6323.8,"rb":0.004,"rc":0.003},
{"x":6324.1,"rb":0.001,"rc":-0.001},{"x":6324.4,"rb":0.003,"rc":0.002},{"x":6324.7,"rb":0,"rc":0.004},{"x":6325.0,"rb":0.004,"rc":0},{"x":6325.3,"rb":0.001,"rc":0.003},{"x":6325.55,"rb":-0.005,"rc":0.002},{"x":6325.7,"rb":-0.032,"rc":0.004},{"x":6325.85,"rb":-0.004,"rc":0.007},{"x":6326.1,"rb":0.004,"rc":0.005},{"x":6326.4,"rb":0.002,"rc":0.002},
{"x":6326.7,"rb":0.005,"rc":0.004},{"x":6327.0,"rb":0.001,"rc":-0.006},{"x":6327.3,"rb":0.004,"rc":0.002},{"x":6327.6,"rb":0,"rc":-0.001},{"x":6327.9,"rb":-0.007,"rc":0.002},{"x":6328.2,"rb":0.003,"rc":0},{"x":6328.5,"rb":0.001,"rc":0.003},{"x":6328.8,"rb":0.004,"rc":-0.002},{"x":6329.1,"rb":0.002,"rc":0.002},{"x":6329.4,"rb":0.004,"rc":0.003},
{"x":6329.75,"rb":0.001,"rc":0},{"x":6330.0,"rb":-0.039,"rc":0.002},{"x":6330.25,"rb":-0.004,"rc":-0.009},{"x":6330.5,"rb":0.004,"rc":0.003},{"x":6330.8,"rb":0.003,"rc":-0.001},{"x":6331.1,"rb":0.002,"rc":0.004},{"x":6331.4,"rb":0.005,"rc":0},{"x":6331.7,"rb":0.001,"rc":0.003},{"x":6332.0,"rb":0.006,"rc":0.001},{"x":6332.3,"rb":0.002,"rc":0.003},
{"x":6332.6,"rb":0,"rc":-0.002},{"x":6332.9,"rb":0.003,"rc":0.004},{"x":6333.2,"rb":0,"rc":0.001},{"x":6333.5,"rb":0.002,"rc":-0.001},{"x":6333.8,"rb":0.003,"rc":0.002},{"x":6334.1,"rb":0,"rc":0},{"x":6334.35,"rb":-0.030,"rc":-0.009},{"x":6334.6,"rb":0,"rc":0.003},{"x":6334.9,"rb":0.006,"rc":0.005},{"x":6335.2,"rb":0.004,"rc":0.003},
{"x":6335.5,"rb":0.007,"rc":0.006},{"x":6335.8,"rb":0.002,"rc":0},{"x":6336.1,"rb":0.004,"rc":0.003},{"x":6336.4,"rb":0.002,"rc":-0.003},{"x":6336.7,"rb":0.005,"rc":0.004},{"x":6337.1,"rb":0.010,"rc":0.0095},{"x":6337.4,"rb":0.002,"rc":0.001},{"x":6337.7,"rb":-0.008,"rc":-0.004},{"x":6338.0,"rb":-0.004,"rc":-0.0156},{"x":6338.25,"rb":-0.01,"rc":-0.006},
{"x":6338.45,"rb":-0.034,"rc":-0.004},{"x":6338.65,"rb":-0.004,"rc":0.002},{"x":6338.9,"rb":0.004,"rc":-0.002},{"x":6339.15,"rb":0.006,"rc":0.005},{"x":6339.35,"rb":0.008,"rc":0.005},{"x":6339.55,"rb":0.034,"rc":0.032},{"x":6339.75,"rb":0.002,"rc":0},{"x":6340.0,"rb":0.002,"rc":0.001},{"x":6340.3,"rb":0.003,"rc":0.001},{"x":6340.6,"rb":0.005,"rc":0.003},
{"x":6340.9,"rb":0.002,"rc":-0.002},{"x":6341.2,"rb":-0.008,"rc":-0.009},{"x":6341.45,"rb":-0.003,"rc":-0.004},{"x":6341.7,"rb":0.004,"rc":0.002},{"x":6342.0,"rb":0.003,"rc":0.002},{"x":6342.3,"rb":-0.004,"rc":0.001},{"x":6342.5,"rb":-0.027,"rc":0},{"x":6342.7,"rb":-0.005,"rc":0.0125},{"x":6342.9,"rb":0.004,"rc":-0.007},{"x":6343.2,"rb":0.006,"rc":0.002},
{"x":6343.5,"rb":0.003,"rc":0.003},{"x":6343.8,"rb":0.007,"rc":0.004},{"x":6344.1,"rb":0.003,"rc":0.002},{"x":6344.4,"rb":0.012,"rc":0.010},{"x":6344.7,"rb":0.003,"rc":0.002},{"x":6345.0,"rb":0.005,"rc":0.003},{"x":6345.3,"rb":0.002,"rc":0.001},{"x":6345.6,"rb":0.004,"rc":0.002},{"x":6345.9,"rb":0,"rc":0.003},{"x":6346.2,"rb":-0.012,"rc":0},
{"x":6346.45,"rb":-0.010,"rc":-0.002},{"x":6346.7,"rb":0,"rc":0.003},{"x":6347.0,"rb":0.004,"rc":0.001},{"x":6347.3,"rb":0.002,"rc":0.003},{"x":6347.6,"rb":0.005,"rc":0.004},{"x":6347.9,"rb":0.002,"rc":0},{"x":6348.2,"rb":0.004,"rc":0.003},{"x":6348.5,"rb":0.001,"rc":0.001},{"x":6348.8,"rb":0.005,"rc":0.004},{"x":6349.1,"rb":0.003,"rc":0.001},
{"x":6349.4,"rb":0.006,"rc":0.006},{"x":6349.7,"rb":0.002,"rc":0.002},{"x":6350.0,"rb":0.004,"rc":0.003},{"x":6350.3,"rb":0.001,"rc":0},{"x":6350.6,"rb":0.003,"rc":0.003},{"x":6350.9,"rb":0,"rc":0.001},{"x":6351.3,"rb":-0.0076,"rc":-0.0094},{"x":6351.6,"rb":0,"rc":-0.002},{"x":6351.9,"rb":0.003,"rc":0.002},{"x":6352.2,"rb":0.006,"rc":0.004},
{"x":6352.5,"rb":0.002,"rc":0.001},{"x":6352.8,"rb":0.004,"rc":0.005},{"x":6353.1,"rb":0.001,"rc":0.002},{"x":6353.4,"rb":0.005,"rc":0.003},{"x":6353.7,"rb":0.002,"rc":0.001},{"x":6354.0,"rb":-0.0097,"rc":0.0095},{"x":6354.3,"rb":0.002,"rc":-0.0075},{"x":6354.6,"rb":0.005,"rc":0.003},{"x":6354.9,"rb":0.002,"rc":0.001},{"x":6355.2,"rb":0.004,"rc":0.004},
{"x":6355.5,"rb":0.007,"rc":0.002},{"x":6355.8,"rb":0.003,"rc":0.003},{"x":6356.1,"rb":0.004,"rc":0.001},{"x":6356.4,"rb":0.002,"rc":0.002},{"x":6356.7,"rb":0.003,"rc":0.004},{"x":6357.0,"rb":0.001,"rc":0.001},{"x":6357.3,"rb":-0.004,"rc":0.003},{"x":6357.6,"rb":-0.021,"rc":0.002},{"x":6357.85,"rb":-0.002,"rc":0.003},{"x":6358.1,"rb":0.003,"rc":0},
{"x":6358.4,"rb":0.004,"rc":0.004},{"x":6358.7,"rb":0.002,"rc":0.002},{"x":6359.0,"rb":0.005,"rc":0.003},{"x":6359.3,"rb":0.004,"rc":0.004},{"x":6359.6,"rb":0.0105,"rc":0.0115},{"x":6359.85,"rb":0.004,"rc":0.002},{"x":6360.1,"rb":0.002,"rc":0},{"x":6360.4,"rb":0.003,"rc":0.001},{"x":6360.7,"rb":0.001,"rc":0.002},{"x":6360.95,"rb":-0.004,"rc":0},
{"x":6361.15,"rb":-0.028,"rc":0.003},{"x":6361.35,"rb":-0.003,"rc":0},{"x":6361.6,"rb":0.003,"rc":0.002},{"x":6361.9,"rb":0.002,"rc":0.001},{"x":6362.2,"rb":0.004,"rc":0.002},{"x":6362.5,"rb":0.003,"rc":0.003},{"x":6362.8,"rb":0.006,"rc":0.004},{"x":6363.1,"rb":0.003,"rc":0},{"x":6363.4,"rb":0.013,"rc":0.014},{"x":6363.7,"rb":0.002,"rc":-0.008},
{"x":6364.0,"rb":0.003,"rc":0.003},{"x":6364.3,"rb":-0.002,"rc":0.001},{"x":6364.6,"rb":-0.022,"rc":0.002},{"x":6364.85,"rb":0,"rc":0.002},{"x":6365.1,"rb":0.004,"rc":0.004},{"x":6365.4,"rb":0.002,"rc":0.002},{"x":6365.75,"rb":0.0085,"rc":0.011},{"x":6366.0,"rb":0.002,"rc":0.003},{"x":6366.3,"rb":0.005,"rc":0.002},{"x":6366.6,"rb":0.006,"rc":0.004},
{"x":6366.9,"rb":0.015,"rc":0.0155},{"x":6367.15,"rb":0.004,"rc":0.002},{"x":6367.4,"rb":0.001,"rc":-0.007},{"x":6367.65,"rb":-0.008,"rc":0},{"x":6367.85,"rb":-0.0345,"rc":0.002},{"x":6368.05,"rb":-0.006,"rc":0.001},{"x":6368.3,"rb":0.003,"rc":0.003},{"x":6368.6,"rb":0.004,"rc":0.002},{"x":6368.85,"rb":0.006,"rc":0.004},{"x":6369.1,"rb":0.008,"rc":0.006},
{"x":6369.35,"rb":0.004,"rc":0.0095},{"x":6369.6,"rb":0.002,"rc":0.003},{"x":6369.9,"rb":0.004,"rc":0.001},{"x":6370.2,"rb":0.001,"rc":0.002},{"x":6370.5,"rb":0.003,"rc":0.003},{"x":6370.8,"rb":-0.004,"rc":0.001},{"x":6371.05,"rb":-0.032,"rc":0.002},{"x":6371.3,"rb":-0.004,"rc":0.004},{"x":6371.55,"rb":0.003,"rc":0.002},{"x":6371.8,"rb":0.006,"rc":0.004},
{"x":6372.0,"rb":0.008,"rc":0.005},{"x":6372.2,"rb":0.008,"rc":0.008},{"x":6372.4,"rb":0.008,"rc":0.006},{"x":6372.6,"rb":0.007,"rc":0.007},{"x":6372.85,"rb":0.003,"rc":0.003},{"x":6373.1,"rb":0.004,"rc":0.002},{"x":6373.4,"rb":0.002,"rc":0.001},{"x":6373.7,"rb":0.003,"rc":0.003},{"x":6373.95,"rb":-0.003,"rc":0},{"x":6374.15,"rb":-0.026,"rc":0.003},
{"x":6374.35,"rb":-0.003,"rc":0},{"x":6374.6,"rb":0.003,"rc":0.003},{"x":6374.9,"rb":0.005,"rc":0.002},{"x":6375.2,"rb":0.003,"rc":0.004},{"x":6375.5,"rb":0.005,"rc":0.003},{"x":6375.8,"rb":0.004,"rc":0.003},{"x":6375.95,"rb":0.004,"rc":0.0095},{"x":6376.2,"rb":0.003,"rc":0.003},{"x":6376.5,"rb":0.005,"rc":0.004},{"x":6376.77,"rb":0.008,"rc":0.005},
{"x":6377.0,"rb":0.002,"rc":0.002},{"x":6377.2,"rb":-0.030,"rc":0.003},{"x":6377.4,"rb":-0.002,"rc":0.001},{"x":6377.7,"rb":0.003,"rc":0.002},{"x":6378.0,"rb":0.005,"rc":0.004},{"x":6378.3,"rb":0.003,"rc":0.001},{"x":6378.6,"rb":0.006,"rc":0.003},{"x":6378.9,"rb":0.004,"rc":0.002},{"x":6379.2,"rb":0.005,"rc":0.004},{"x":6379.5,"rb":0.002,"rc":0.001},
{"x":6379.8,"rb":-0.003,"rc":0},{"x":6380.03,"rb":-0.020,"rc":-0.003},{"x":6380.25,"rb":0,"rc":0.002},{"x":6380.55,"rb":0.003,"rc":0.003},{"x":6380.85,"rb":0.006,"rc":0.001},{"x":6381.15,"rb":0.004,"rc":0.003},{"x":6381.45,"rb":0.002,"rc":0},{"x":6381.75,"rb":0.004,"rc":0.003},{"x":6382.05,"rb":0.002,"rc":0.002},{"x":6382.35,"rb":0,"rc":0.001},
{"x":6382.6,"rb":-0.002,"rc":0.003},{"x":6382.87,"rb":-0.013,"rc":0},{"x":6383.1,"rb":0.002,"rc":0.002},{"x":6383.4,"rb":0.003,"rc":0.003},{"x":6383.7,"rb":0.001,"rc":0.001},{"x":6384.0,"rb":0.003,"rc":-0.002},{"x":6384.3,"rb":0.002,"rc":-0.0075},{"x":6384.6,"rb":0.004,"rc":0.002},{"x":6384.9,"rb":0.001,"rc":0.001},{"x":6385.15,"rb":0.001,"rc":0.003},
{"x":6385.4,"rb":-0.0104,"rc":0},{"x":6385.65,"rb":0,"rc":0.002},{"x":6385.9,"rb":0.003,"rc":0.003},{"x":6386.2,"rb":0.001,"rc":0.001},{"x":6386.5,"rb":0.003,"rc":0.002},{"x":6386.8,"rb":0.002,"rc":0},{"x":6387.1,"rb":0.003,"rc":0.003},{"x":6387.3,"rb":0.002,"rc":0.001}
]
},
"spacing": 2,
"vconcat": [
{
 "spacing": 4,
 "resolve": {"scale": {"color": "independent"}, "legend": {"color": "independent"}},
 "vconcat": [
 {
  "width": 729, "height": 189,
  "layer": [
    {"data": {"name": "co"}, "transform": [{"fold": ["CO"], "as": ["series", "T"]}], "mark": {"type": "line", "strokeWidth": 2.8, "clip": true, "interpolate": "monotone"},
     "encoding": {
       "x": {"field": "x", "type": "quantitative", "scale": {"domain": [6315.75, 6387.3], "nice": false, "zero": false}, "axis": {"values": [6320, 6330, 6340, 6350, 6360, 6370, 6380], "title": null, "labelFlush": false, "format": "d", "labelPadding": 13}},
       "y": {"field": "T", "type": "quantitative", "scale": {"domain": [0.8, 1.0104], "nice": false, "zero": false}, "axis": {"values": [0.8, 0.9, 1], "labelExpr": "toString(datum.value)", "title": "transmittance"}},
       "color": {"field": "series", "type": "nominal", "scale": {"domain": ["CO", "CO2"], "range": ["#ff0000", "#0000ff"]}, "legend": {"title": null, "orient": "none", "legendX": 611, "legendY": 67, "symbolStrokeWidth": 2.5}}}},
    {"data": {"name": "spec"}, "transform": [{"fold": ["CO2"], "as": ["series", "T"]}], "mark": {"type": "line", "strokeWidth": 2.8, "clip": true, "interpolate": "monotone"},
     "encoding": {"x": {"field": "x", "type": "quantitative"}, "y": {"field": "T", "type": "quantitative"}, "color": {"field": "series", "type": "nominal"}}},
    {"data": {"values": [{"label": "A"}]}, "mark": {"type": "text", "fontSize": 22, "align": "left", "baseline": "alphabetic", "dy": -5, "color": "#000000"},
     "encoding": {"text": {"field": "label", "type": "nominal"}, "x": {"datum": 6315.95, "type": "quantitative"}, "y": {"datum": 1.0104, "type": "quantitative"}}},
    {"data": {"values": [{"label": "ORDER 49"}]}, "mark": {"type": "text", "fontSize": 27, "fontWeight": "bold", "align": "center", "baseline": "alphabetic", "dy": -10, "color": "#000000"},
     "encoding": {"text": {"field": "label", "type": "nominal"}, "x": {"datum": 6351.57, "type": "quantitative"}, "y": {"datum": 1.0104, "type": "quantitative"}}},
    {"data": {"values": [{"label": "direct model"}]}, "mark": {"type": "text", "fontSize": 24.5, "align": "left", "baseline": "alphabetic", "color": "#000000"},
     "encoding": {"text": {"field": "label", "type": "nominal"}, "x": {"datum": 6373.95, "type": "quantitative"}, "y": {"datum": 0.8264, "type": "quantitative"}}}
  ]
 },
 {
  "spacing": 0,
  "bounds": "flush",
  "vconcat": [
    {
      "width": 729, "height": 187,
      "layer": [
        {"data": {"name": "spec"}, "transform": [{"fold": ["bd"], "as": ["series", "T"]}], "mark": {"type": "line", "strokeWidth": 2.2, "clip": true, "interpolate": "monotone"},
         "encoding": {
           "x": {"field": "x", "type": "quantitative", "scale": {"domain": [6315.75, 6387.3], "nice": false, "zero": false}, "axis": {"values": [6320, 6330, 6340, 6350, 6360, 6370, 6380], "title": null, "labels": false}},
           "y": {"field": "T", "type": "quantitative", "scale": {"domain": [0.7, 1], "nice": false, "zero": false}, "axis": {"values": [0.7, 0.8, 0.9, 1], "labelExpr": "toString(datum.value)", "title": "transmittance"}},
           "color": {"field": "series", "type": "nominal", "scale": {"domain": ["bd", "bf"], "range": ["#000000", "#0000ff"]}, "legend": {"title": null, "orient": "none", "legendX": 583, "legendY": 108, "symbolStrokeWidth": 2, "labelExpr": "datum.value == 'bd' ? 'data' : 'best fit'"}}}},
        {"data": {"name": "spec"}, "transform": [{"fold": ["bf"], "as": ["series", "T"]}], "mark": {"type": "line", "strokeWidth": 1.5, "clip": true, "interpolate": "monotone"},
         "encoding": {"x": {"field": "x", "type": "quantitative"}, "y": {"field": "T", "type": "quantitative"}, "color": {"field": "series", "type": "nominal"}}},
        {"data": {"values": [{"label": "B"}]}, "mark": {"type": "text", "fontSize": 22, "align": "left", "baseline": "alphabetic", "dy": -6, "color": "#000000"},
         "encoding": {"text": {"field": "label", "type": "nominal"}, "x": {"datum": 6315.95, "type": "quantitative"}, "y": {"datum": 1, "type": "quantitative"}}},
        {"data": {"values": [{"label": "fitting without CO"}]}, "mark": {"type": "text", "fontSize": 25, "align": "left", "baseline": "alphabetic", "color": "#000000"},
         "encoding": {"text": {"field": "label", "type": "nominal"}, "x": {"datum": 6320.14, "type": "quantitative"}, "y": {"datum": 0.9634, "type": "quantitative"}}}
      ]
    },
    {
      "width": 729, "height": 78,
      "data": {"name": "res"},
      "mark": {"type": "line", "strokeWidth": 1.2, "color": "#000000", "clip": true},
      "encoding": {
        "x": {"field": "x", "type": "quantitative", "scale": {"domain": [6315.75, 6387.3], "nice": false, "zero": false}, "axis": {"values": [6320, 6330, 6340, 6350, 6360, 6370, 6380], "title": null, "labelFlush": false, "format": "d", "labelPadding": 10}},
        "y": {"field": "rb", "type": "quantitative", "scale": {"domain": [-0.04, 0.04], "nice": false, "zero": false}, "axis": {"values": [-0.04, -0.02, 0, 0.02, 0.04], "labelExpr": "toString(datum.value)", "title": "residual"}}
      }
    }
  ]
 }
 ]
},
{
  "spacing": 0,
  "bounds": "flush",
  "vconcat": [
    {
      "width": 729, "height": 187,
      "layer": [
        {"data": {"name": "spec"}, "transform": [{"fold": ["cd"], "as": ["series", "T"]}], "mark": {"type": "line", "strokeWidth": 2.2, "clip": true, "color": "#000000", "interpolate": "monotone"},
         "encoding": {
           "x": {"field": "x", "type": "quantitative", "scale": {"domain": [6315.75, 6387.3], "nice": false, "zero": false}, "axis": {"values": [6320, 6330, 6340, 6350, 6360, 6370, 6380], "title": null, "labels": false}},
           "y": {"field": "T", "type": "quantitative", "scale": {"domain": [0.7, 1], "nice": false, "zero": false}, "axis": {"values": [0.7, 0.8, 0.9, 1], "labelExpr": "toString(datum.value)", "title": "transmittance"}}}},
        {"data": {"name": "spec"}, "transform": [{"fold": ["cf"], "as": ["series", "T"]}], "mark": {"type": "line", "strokeWidth": 2.2, "clip": true, "color": "#0000ff", "interpolate": "monotone"},
         "encoding": {"x": {"field": "x", "type": "quantitative"}, "y": {"field": "T", "type": "quantitative"}}},
        {"data": {"values": [{"label": "C"}]}, "mark": {"type": "text", "fontSize": 22, "align": "left", "baseline": "alphabetic", "dy": -7, "color": "#000000"},
         "encoding": {"text": {"field": "label", "type": "nominal"}, "x": {"datum": 6315.95, "type": "quantitative"}, "y": {"datum": 1, "type": "quantitative"}}},
        {"data": {"values": [{"label": "fitting with CO"}]}, "mark": {"type": "text", "fontSize": 25, "align": "left", "baseline": "alphabetic", "color": "#000000"},
         "encoding": {"text": {"field": "label", "type": "nominal"}, "x": {"datum": 6320.14, "type": "quantitative"}, "y": {"datum": 0.962, "type": "quantitative"}}},
        {"data": {"values": [{"label": "Orbit1917 Alt=22.8km"}]}, "mark": {"type": "text", "fontSize": 25, "align": "left", "baseline": "alphabetic", "color": "#000000"},
         "encoding": {"text": {"field": "label", "type": "nominal"}, "x": {"datum": 6360.32, "type": "quantitative"}, "y": {"datum": 0.7242, "type": "quantitative"}}}
      ]
    },
    {
      "width": 729, "height": 85,
      "data": {"name": "res"},
      "mark": {"type": "line", "strokeWidth": 1.2, "color": "#000000", "clip": true},
      "encoding": {
        "x": {"field": "x", "type": "quantitative", "scale": {"domain": [6315.75, 6387.3], "nice": false, "zero": false}, "axis": {"values": [6320, 6330, 6340, 6350, 6360, 6370, 6380], "title": "wavenumber, cm⁻¹", "titleFontSize": 24.5, "titlePadding": 17, "labelPadding": 13, "labelFlush": false, "format": "d"}},
        "y": {"field": "rc", "type": "quantitative", "scale": {"domain": [-0.04, 0.04], "nice": false, "zero": false}, "axis": {"values": [-0.04, -0.02, 0, 0.02, 0.04], "labelExpr": "toString(datum.value)", "title": "residual"}}
      }
    }
  ]
}
]
}
